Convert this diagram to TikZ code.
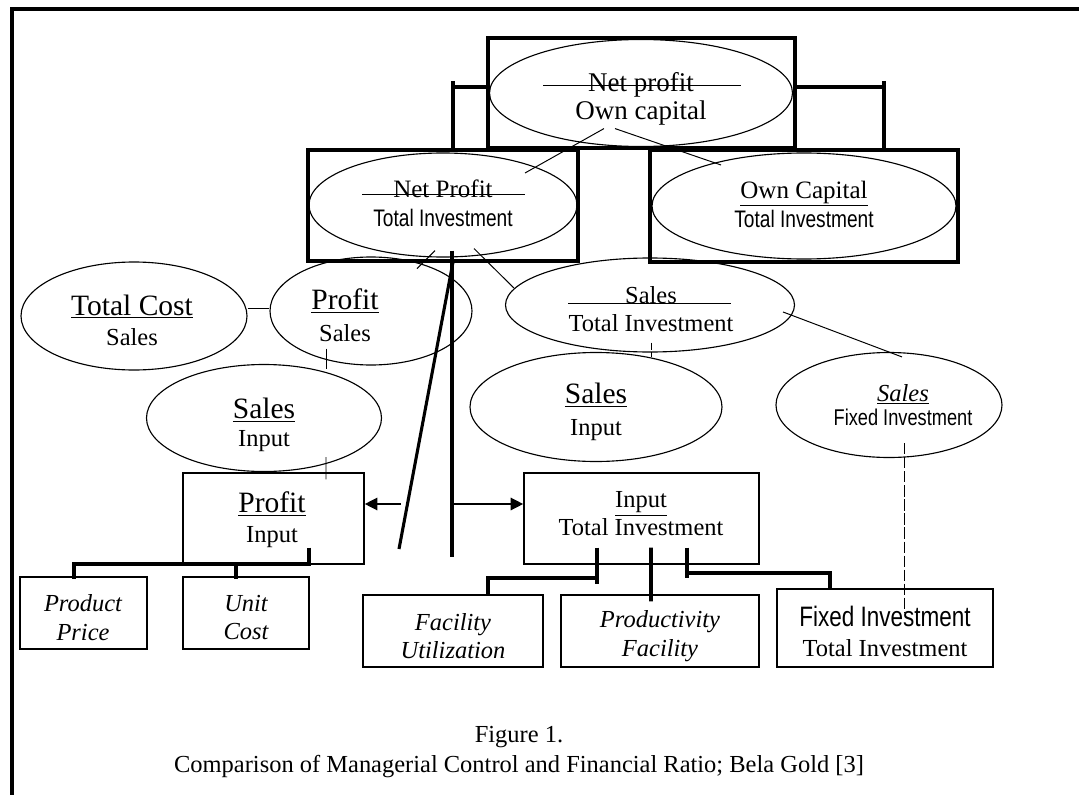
\documentclass[tikz,border=0pt]{standalone}
\usepackage{fontspec}
\setmainfont{Liberation Serif}
\newfontfamily\narrowsf[FakeStretch=0.8]{Liberation Sans}
\usetikzlibrary{positioning, arrows.meta, shapes.geometric, calc}
\newcommand\numfs{\fontsize{21}{21}\selectfont}

\begin{document}
\begin{tikzpicture}[x=0.025cm, y=-0.025cm,
    thickbox/.style={draw, rectangle, line width=2.8pt, inner sep=0pt},
    box/.style={draw, rectangle, line width=0.9pt, inner sep=0pt},
    oval/.style={draw, ellipse, line width=0.8pt, inner sep=0pt},
    lbl/.style={align=center, inner sep=0pt, font=\fontsize{17.4}{19.9}\selectfont},
    ital/.style={align=center, inner sep=0pt, font=\fontsize{17.4}{20.3}\selectfont\itshape},
    link/.style={line width=0.7pt},
    bar/.style={line width=2.8pt},
    spine/.style={line width=2.2pt},
    arr/.style={line width=2pt, -{Triangle[length=9pt, width=8.5pt]}}]
    \def\px{0.025cm}
    \useasboundingbox (0,0) rectangle (1079,795);

    % Cadre
    \draw[line width=2.8pt] (1079,9) -- (12,9) -- (12,795);

    % Rapport principal
    \node[thickbox, minimum width=307*\px, minimum height=110*\px] (topbox) at (641.5,93) {};
    \node[oval, minimum width=303*\px, minimum height=107*\px] (topov) at (641,93) {};
    \node[lbl, font=\fontsize{19.2}{20.2}\selectfont] (toptx) at (641,99) {Net profit\\Own capital};
    \draw[link] ($(topov)+(-98,-8)$) -- ($(topov)+(100,-8)$);

    % Deuxieme niveau
    \node[thickbox, minimum width=270*\px, minimum height=111*\px] (npbox) at (443,205.5) {};
    \node[oval, minimum width=268*\px, minimum height=104*\px] (npov) at (443,205) {};
    \node[lbl, font=\fontsize{17.8}{20.6}\selectfont] (nptx) at (443,203.5) {Net Profit\\{\narrowsf\fontsize{17}{20.6}\selectfont Total Investment}};
    \draw[link] ($(npov)+(-81,-11)$) -- ($(npov)+(82,-11)$);

    \node[thickbox, minimum width=308*\px, minimum height=112*\px] (ocbox) at (804,206) {};
    \node[oval, minimum width=304*\px, minimum height=106*\px] (ocov) at (804,206) {};
    \node[lbl, font=\fontsize{17.8}{20.6}\selectfont] (octx) at (804,204) {\underline{Own Capital}\\{\narrowsf\fontsize{17}{20.6}\selectfont Total Investment}};

    % Crochets
    \coordinate (lbr) at (453,87);
    \coordinate (rbr) at (884,87);
    \draw[bar] (topbox.west |- lbr) -- (lbr) ++(0,-6) -- (lbr |- npbox.north);
    \draw[bar] (topbox.east |- rbr) -- (rbr) ++(0,-6) -- (rbr |- ocbox.north);
    \draw[link] ($(topov.south)+(-37,-18.5)$) -- ($(npov)+(82,-32)$);
    \draw[link] ($(topov.south)+(-26,-18.5)$) -- ($(ocov)+(-83,-41)$);

    % Troisieme niveau
    \node[oval, minimum width=226*\px, minimum height=108*\px] (tcov) at (134,316) {};
    \node[lbl, font=\fontsize{17.4}{21.3}\selectfont] (tctx) at (132,320) {{\numfs\underline{Total Cost}}\\Sales};
    \node[oval, minimum width=202*\px, minimum height=108*\px] (psov) at (371,311) {};
    \node[lbl, font=\fontsize{17.4}{22.8}\selectfont] (pstx) at (345,315.5) {{\numfs\underline{Profit}}\\Sales};
    \node[oval, minimum width=289*\px, minimum height=94*\px] (stiov) at (650,305) {};
    \node[lbl] (stitx) at (651,309.5) {Sales\\Total Investment};
    \draw[link] ($(stiov)+(-82,-2)$) -- ($(stiov)+(81,-2)$);

    % Quatrieme niveau
    \node[oval, minimum width=235*\px, minimum height=107*\px] (siov) at (264,418) {};
    \node[lbl] (sitx) at (264,425) {{\numfs\underline{Sales}}\\Input};
    \node[oval, minimum width=252*\px, minimum height=109*\px] (simov) at (596,407) {};
    \node[lbl, font=\fontsize{17.4}{22.8}\selectfont] (simtx) at (596,412) {{\numfs\underline{Sales}}\\Input};
    \node[oval, minimum width=226*\px, minimum height=105*\px] (sfiov) at (889,405) {};
    \node[lbl, font=\fontsize{17.4}{17}\selectfont] (sfitx) at (903,405) {\underline{\textit{Sales}}\\{\narrowsf\fontsize{16.2}{17}\selectfont Fixed Investment}};

    \draw[link] ($(tcov.east)+(0,-8)$) -- ($(psov.west)+(0,-3)$);
    \draw[link] ($(psov.south)+(-45,-17)$) -- ($(siov.north)+(62,5)$);
    \draw[link, dash pattern=on 5pt off 2pt] ($(stiov.south)+(1,-10)$) -- ($(simov.north)+(55,5)$);
    \draw[link] ($(stiov.east)+(-12,7)$) -- ($(sfiov.north)+(13,5)$);
    \draw[link] ($(npov.south)+(-26,11)$) -- ($(npov.south)+(-8,-7)$);
    \draw[link] ($(npov.south)+(31,-9)$) -- ($(stiov.west)+(9,-17)$);

    % Cinquieme niveau
    \node[box, minimum width=181*\px, minimum height=91*\px] (pibox) at (273.5,518.5) {};
    \node[lbl, font=\fontsize{17.4}{21.3}\selectfont] (pitx) at (272,520) {{\numfs\underline{Profit}}\\Input};
    \node[box, minimum width=235*\px, minimum height=91*\px] (itibox) at (641.5,518.5) {};
    \node[lbl] (ititx) at (641,514) {\underline{Input}\\Total Investment};
    \draw[link] ($(siov.south)+(62,-15)$) -- ($(pibox.north)+(52.5,7)$);

    % Axe central et fleches
    \coordinate (spinetop) at ($(npov.south)+(9,-7)$);
    \coordinate (spinebot) at (452,557);
    \coordinate (slanttop) at (453,262);
    \coordinate (slantbot) at (399,549);
    \draw[spine] (spinetop) -- (spinebot);
    \draw[spine] (slanttop) -- (slantbot);
    \coordinate (ra) at ($(itibox.west)+(0,-14.5)$);
    \draw[arr] (spinetop |- ra) -- (ra);
    \coordinate (la) at ($(pibox.east)+(0,-14.5)$);
    \draw[arr] ($(la)+(36,0)$) -- (la);

    % Dernier niveau
    \node[box, minimum width=127*\px, minimum height=72*\px] (ppbox) at (83.5,613) {};
    \node[ital] (pptx) at (83,617.5) {Product\\Price};
    \node[box, minimum width=126*\px, minimum height=72*\px] (ucbox) at (246,613) {};
    \node[ital] (uctx) at (246,617.5) {Unit\\Cost};
    \node[box, minimum width=180*\px, minimum height=72*\px] (fubox) at (453,631) {};
    \node[ital] (futx) at (453,636) {Facility\\Utilization};
    \node[box, minimum width=198*\px, minimum height=72*\px] (pfbox) at (660,631) {};
    \node[ital] (pftx) at (660,636) {Productivity\\Facility};
    \node[box, minimum width=216*\px, minimum height=78*\px] (fibox) at (885,628) {};
    \node[lbl, font=\fontsize{17.4}{21.3}\selectfont] (fitx) at (885,631.5) {{\narrowsf\fontsize{20}{21.3}\selectfont Fixed Investment}\\Total Investment};

    \draw[bar] ($(pibox.south)+(35.5,-17)$) |- ($(ppbox.north)+(-9.5,-12)$) -- ($(ppbox.north)+(-9.5,3)$);
    \draw[bar] ($(ucbox.north)+(-10,-12)$) -- ($(ucbox.north)+(-10,3)$);
    \draw[bar] ($(itibox.south)+(-44.5,-17)$) -- ++(0,36);
    \draw[bar] ($(itibox.south)+(-44.5,13)$) -| ($(fubox.north)+(35,2)$);
    \draw[bar] ($(itibox.south)+(9.5,-17)$) -- ($(pfbox.north)+(-9,7)$);
    \draw[bar, line width=3.5pt] ($(itibox.south)+(45.5,-17)$) -- ++(0,30);
    \draw[bar] ($(itibox.south)+(45.5,8)$) -| ($(fibox.north)+(-55,1)$);
    \draw[link, dash pattern=on 8pt off 2pt] ($(sfiov.south)+(15,-15)$) -- ($(fibox)+(19,-15)$);

    % Legende
    \node[lbl, font=\fontsize{17.4}{21.3}\selectfont] (caption) at (519,752) {Figure 1.\\Comparison of Managerial Control and Financial Ratio; Bela Gold [3]};
\end{tikzpicture}
\end{document}
